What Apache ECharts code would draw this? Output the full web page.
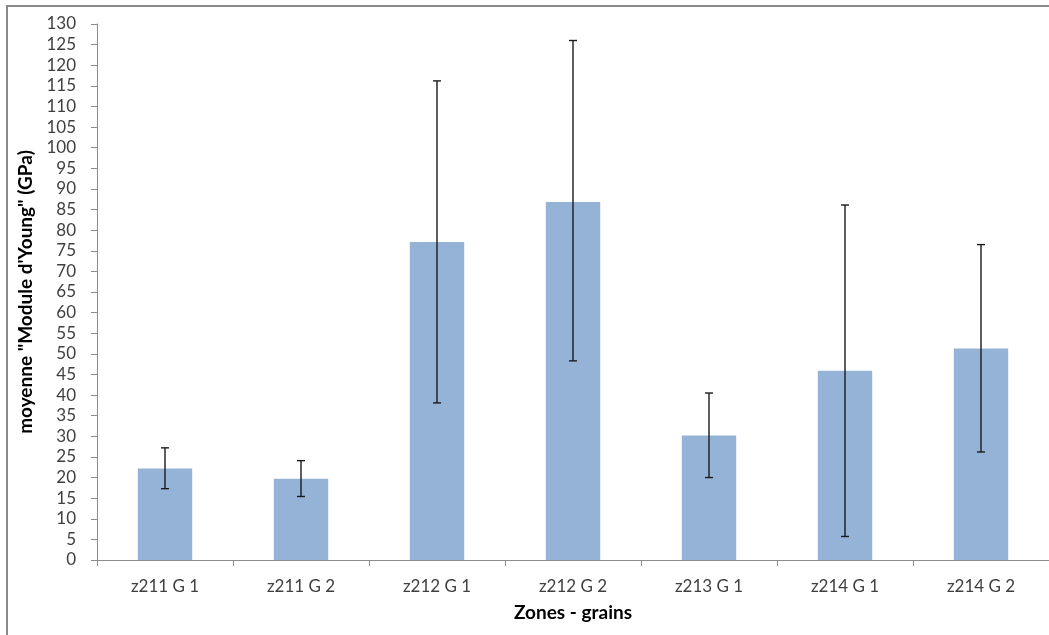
<!DOCTYPE html>
<html>
<head>
<meta charset="utf-8">
<script src="https://cdn.jsdelivr.net/npm/echarts@6/dist/echarts.min.js"></script>
<style>html,body{margin:0;padding:0;background:#fff;}#c{width:1049px;height:635px;}</style>
</head>
<body>
<div id="c"></div>
<script>
var categories = ['z211 G 1', 'z211 G 2', 'z212 G 1', 'z212 G 2', 'z213 G 1', 'z214 G 1', 'z214 G 2'];
var means = [22.2, 19.7, 77.1, 86.8, 30.2, 45.9, 51.3];
var errLow = [17.3, 15.4, 38.1, 48.3, 20.0, 5.7, 26.2];
var errHigh = [27.2, 24.1, 116.2, 126.0, 40.5, 86.1, 76.5];
var yTicks = {min: 0, max: 130, interval: 5};

var chart = echarts.init(document.getElementById('c'), null, {renderer: 'canvas'});
var font = 'Lato, "Open Sans", sans-serif';
var errData = categories.map(function (c, i) { return [i, errLow[i], errHigh[i]]; });

chart.setOption({
  animation: false,
  backgroundColor: '#fff',
  graphic: [{
    type: 'rect', silent: true, z: 100,
    shape: {x: 7, y: 6, width: 1200, height: 800},
    style: {fill: 'none', stroke: '#8a8a8a', lineWidth: 2}
  }],
  grid: {left: 97, top: 24, width: 954, height: 536, containLabel: false},
  xAxis: {
    type: 'category',
    data: categories,
    name: 'Zones - grains',
    nameLocation: 'middle',
    nameGap: 43,
    nameTextStyle: {fontFamily: font, fontSize: 19, fontWeight: 'bold', color: '#000'},
    axisLine: {lineStyle: {color: '#8c8c8c', width: 1}},
    axisTick: {show: true, alignWithLabel: false, length: 6, lineStyle: {color: '#8c8c8c'}},
    axisLabel: {fontFamily: font, fontSize: 17, color: '#404040', margin: 18},
    splitLine: {show: false}
  },
  yAxis: {
    type: 'value',
    min: yTicks.min, max: yTicks.max, interval: yTicks.interval,
    name: 'moyenne "Module d\'Young" (GPa)',
    nameLocation: 'middle',
    nameGap: 57,
    nameRotate: 90,
    nameTextStyle: {fontFamily: font, fontSize: 19, fontWeight: 'bold', color: '#000'},
    axisLine: {show: true, lineStyle: {color: '#8c8c8c', width: 1}},
    axisTick: {show: true, length: 6, lineStyle: {color: '#8c8c8c'}},
    axisLabel: {fontFamily: font, fontSize: 17, color: '#404040', margin: 21},
    splitLine: {show: false}
  },
  series: [{
    type: 'bar',
    data: means,
    barWidth: '40%',
    itemStyle: {color: '#95B3D7'}
  }, {
    type: 'custom',
    data: errData,
    z: 10,
    renderItem: function (params, api) {
      var x = api.value(0);
      var lo = api.coord([x, api.value(1)]);
      var hi = api.coord([x, api.value(2)]);
      var hw = 4;
      var st = {stroke: '#1a1a1a', lineWidth: 1.4};
      return {
        type: 'group',
        children: [
          {type: 'line', shape: {x1: hi[0], y1: hi[1], x2: lo[0], y2: lo[1]}, style: st},
          {type: 'line', shape: {x1: hi[0] - hw, y1: hi[1], x2: hi[0] + hw, y2: hi[1]}, style: st},
          {type: 'line', shape: {x1: lo[0] - hw, y1: lo[1], x2: lo[0] + hw, y2: lo[1]}, style: st}
        ]
      };
    }
  }]
});
</script>
</body>
</html>
